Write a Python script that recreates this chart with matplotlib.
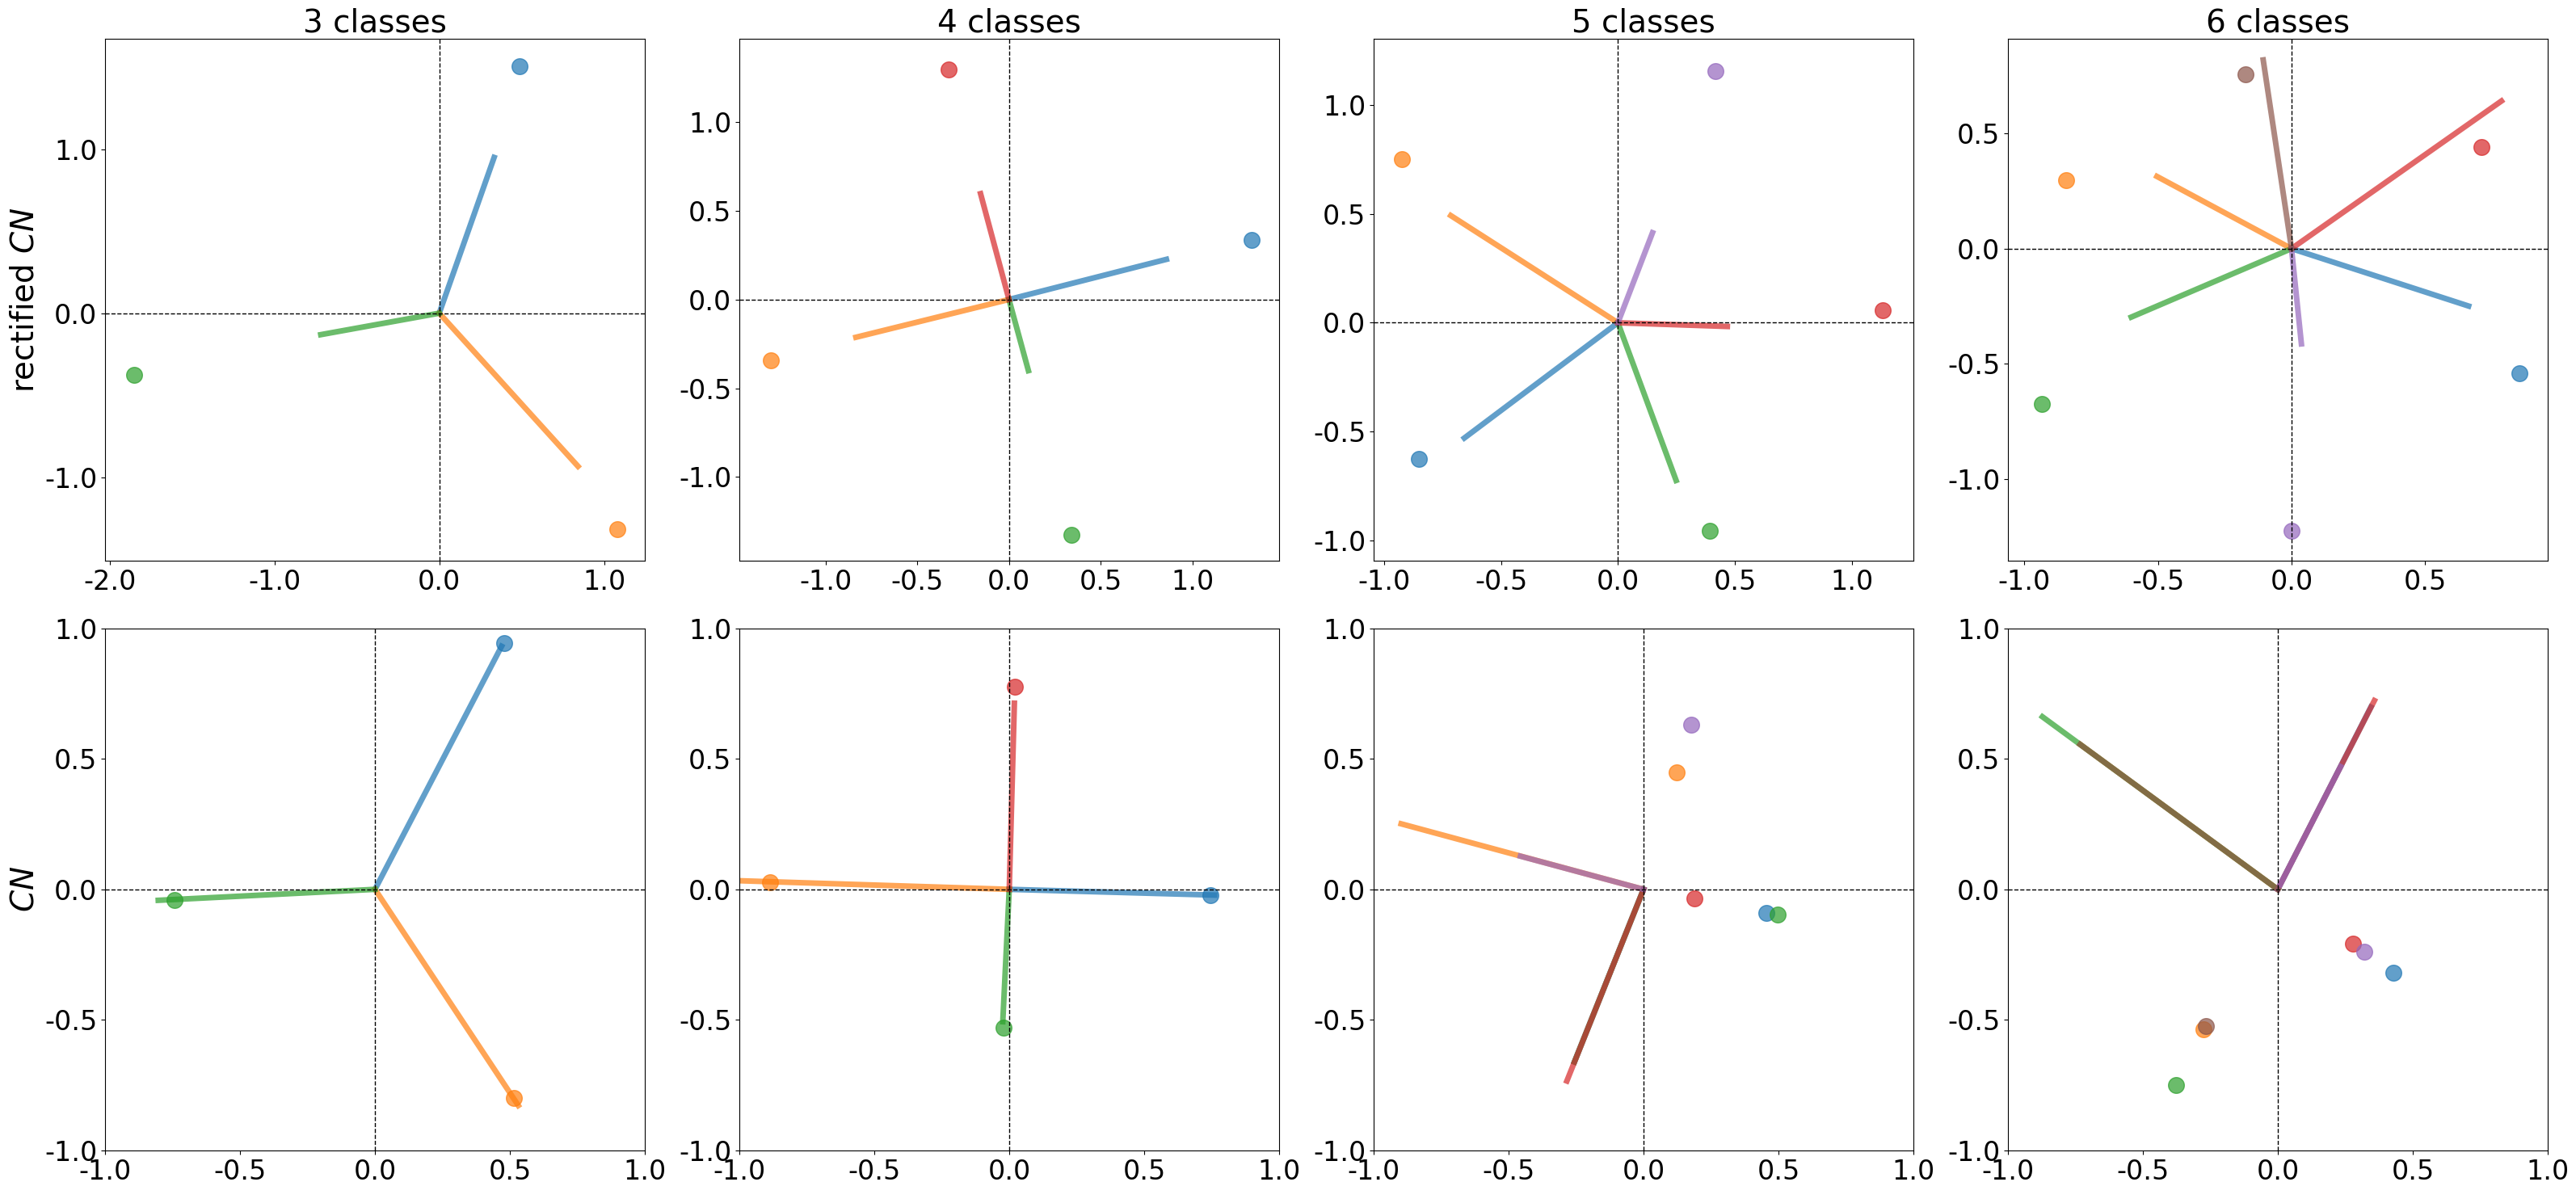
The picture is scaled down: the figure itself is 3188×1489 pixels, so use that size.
import numpy as np
import matplotlib.pyplot as plt
from matplotlib.ticker import FormatStrFormatter, MultipleLocator

plt.rcParams['axes.unicode_minus'] = False

# number of classes per column
n_classes = [3, 4, 5, 6]
colores = ['tab:blue', 'tab:orange', 'tab:green', 'tab:red', 'tab:purple', 'tab:brown']

# fila superior: rectified CN  (puntos y vectores, en orden de clase)
rect3_points = [[0.489, 1.507], [1.083, -1.317], [-1.852, -0.378]]
rect3_vectors = [[0.333, 0.950], [0.842, -0.934], [-0.719, -0.131]]

rect4_points = [[1.323, 0.334], [-1.298, -0.343], [0.340, -1.325], [-0.331, 1.296]]
rect4_vectors = [[0.859, 0.226], [-0.835, -0.213], [0.106, -0.401], [-0.155, 0.596]]

rect5_points = [[-0.853, -0.626], [-0.925, 0.752], [0.394, -0.957], [1.132, 0.058], [0.417, 1.158]]
rect5_vectors = [[-0.657, -0.530], [-0.715, 0.493], [0.249, -0.725], [0.468, -0.017], [0.148, 0.414]]

rect6_points = [[0.852, -0.542], [-0.843, 0.296], [-0.936, -0.672], [0.711, 0.441],
                [0.000, -1.222], [-0.173, 0.756]]
rect6_vectors = [[0.663, -0.249], [-0.504, 0.313], [-0.600, -0.297], [0.786, 0.640],
                 [0.037, -0.413], [-0.106, 0.818]]

# fila inferior: CN
cn3_points = [[0.479, 0.942], [0.515, -0.799], [-0.742, -0.042]]
cn3_vectors = [[0.469, 0.931], [0.531, -0.828], [-0.803, -0.042]]

cn4_points = [[0.745, -0.022], [-0.887, 0.028], [-0.021, -0.531], [0.021, 0.775]]
cn4_vectors = [[0.761, -0.022], [-1.000, 0.033], [-0.024, -0.507], [0.019, 0.713]]

cn5_points = [[0.454, -0.089], [0.124, 0.447], [0.497, -0.096], [0.190, -0.036], [0.177, 0.630]]
cn5_vectors = [[-0.256, -0.661], [-0.898, 0.251], [-0.256, -0.661], [-0.284, -0.734], [-0.456, 0.127]]

cn6_points = [[0.427, -0.318], [-0.274, -0.537], [-0.378, -0.749], [0.279, -0.209],
              [0.322, -0.240], [-0.265, -0.525]]
cn6_vectors = [[0.345, 0.698], [-0.732, 0.555], [-0.872, 0.661], [0.358, 0.723],
               [0.233, 0.470], [-0.732, 0.555]]

top_rows = [(rect3_points, rect3_vectors), (rect4_points, rect4_vectors),
            (rect5_points, rect5_vectors), (rect6_points, rect6_vectors)]
bottom_rows = [(cn3_points, cn3_vectors), (cn4_points, cn4_vectors),
               (cn5_points, cn5_vectors), (cn6_points, cn6_vectors)]

# limites de la fila superior
top_xlims = [(-2.028, 1.248), (-1.471, 1.474), (-1.045, 1.264), (-1.062, 0.959)]
top_ylims = [(-1.511, 1.674), (-1.473, 1.469), (-1.095, 1.306), (-1.354, 0.910)]
top_steps = [1.0, 0.5, 0.5, 0.5]


def dibujar(ax, points, vectors):
    for k, (p, v) in enumerate(zip(points, vectors)):
        ax.plot([0, v[0]], [0, v[1]], color=colores[k], lw=5, alpha=0.7)
        ax.scatter(p[0], p[1], color=colores[k], s=200, alpha=0.7)
    ax.axhline(0, color='k', ls='--', lw=1)
    ax.axvline(0, color='k', ls='--', lw=1)
    ax.xaxis.set_major_formatter(FormatStrFormatter('%.1f'))
    ax.yaxis.set_major_formatter(FormatStrFormatter('%.1f'))
    ax.tick_params(labelsize=24)


fig, axes = plt.subplots(2, 4, figsize=(31.88, 14.89), dpi=100)
fig.subplots_adjust(left=0.0408, right=0.989, bottom=0.0437, top=0.9678,
                    wspace=0.175, hspace=0.129)

for j, n in enumerate(n_classes):
    ax = axes[0, j]
    dibujar(ax, *top_rows[j])
    ax.set_xlim(*top_xlims[j])
    ax.set_ylim(*top_ylims[j])
    ax.xaxis.set_major_locator(MultipleLocator(top_steps[j]))
    ax.yaxis.set_major_locator(MultipleLocator(top_steps[j]))
    ax.set_title('%d classes' % n, fontsize=28)

    ax = axes[1, j]
    dibujar(ax, *bottom_rows[j])
    ax.set_xlim(-1, 1)
    ax.set_ylim(-1, 1)
    ax.xaxis.set_major_locator(MultipleLocator(0.5))
    ax.yaxis.set_major_locator(MultipleLocator(0.5))

axes[0, 0].set_ylabel('rectified $CN$', fontsize=28)
axes[1, 0].set_ylabel('$CN$', fontsize=28)

fig.savefig('out.png', dpi=100)
